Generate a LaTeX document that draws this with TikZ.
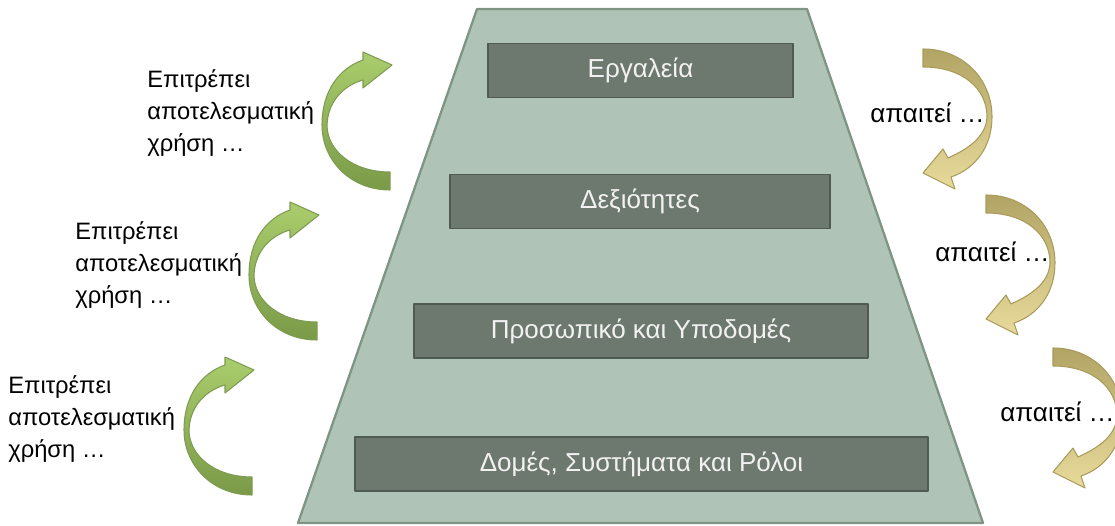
\documentclass[tikz,border=0pt]{standalone}
\usepackage{fontspec}
\setmainfont{Liberation Sans}
\definecolor{pyrfill}{HTML}{AFC3B6}
\definecolor{pyrline}{HTML}{7F9584}
\definecolor{boxfill}{HTML}{6D786F}
\definecolor{boxline}{HTML}{4F5A52}
\definecolor{grnlight}{HTML}{AACD6C}
\definecolor{grndark}{HTML}{7A9A48}
\definecolor{grnline}{HTML}{7E9B52}
\definecolor{tandark}{HTML}{B2A465}
\definecolor{tanlight}{HTML}{E8DA9A}
\definecolor{tanline}{HTML}{A89B5C}
\begin{document}
\begin{tikzpicture}[x=0.02cm,y=-0.02cm,line join=round,font=\fontsize{13.5}{18.2}\selectfont,
    level/.style={draw=boxline,line width=1.1pt,fill=boxfill,text=white!95!black,minimum height=1.08cm,
        font=\fontsize{14.8}{18}\selectfont},
    upgreen/.style={draw=grnline,line width=0.6pt,top color=grnlight,bottom color=grndark},
    downtan/.style={draw=tanline,line width=0.6pt,top color=tandark,bottom color=tanlight},
    note/.style={inner sep=0pt,align=left,anchor=north west},
    need/.style={inner sep=0pt,anchor=west,font=\fontsize{14.8}{18}\selectfont}]
    \useasboundingbox (0,0) rectangle (1115,526);
    % pyramid
    \draw[draw=pyrline,line width=1.3pt,fill=pyrfill] (477,9)--(807,9)--(983,523)--(298,523)--cycle;

    \node[level,minimum width=6.1cm] (tools) at (640.5,70.5) {Εργαλεία};
    \node[level,minimum width=7.6cm] (skills) at (640,201.5) {Δεξιότητες};
    \node[level,minimum width=9.08cm] (staff) at (641,331) {Προσωπικό και Υποδομές};
    \node[level,minimum width=11.46cm] (struct) at (641.5,464) {Δομές, Συστήματα και Ρόλοι};

    % curved arrows, left side
    \foreach \x/\y in {390/190,317/340,252/495}
        \draw[upgreen,shift={(\x,\y)}] (0,0) .. controls (-40,0) and (-68,-30) .. (-68,-65)
            .. controls (-68,-100) and (-50,-122) .. (-27,-130) -- (-27,-138) -- (2,-125)
            -- (-27,-102) -- (-27,-110) .. controls (-45,-105) and (-62,-90) .. (-63,-65)
            .. controls (-63,-40) and (-38,-18) .. (0,-18) -- cycle;
    % curved arrows, right side
    \foreach \x/\y in {923/49,986/195,1053/348}
        \draw[downtan,shift={(\x,\y)}] (0,0) .. controls (40,0) and (69,30) .. (69,68)
            .. controls (69,98) and (52,120) .. (28,128) -- (32,140) -- (0,124)
            -- (20,100) -- (25,109) .. controls (45,100) and (63,88) .. (64,68)
            .. controls (64,40) and (40,18) .. (0,18) -- cycle;

    \node[note] (use1) at (147,69) {Επιτρέπει\\αποτελεσματική\\χρήση …};
    \node[note] (use2) at (75,221) {Επιτρέπει\\αποτελεσματική\\χρήση …};
    \node[note] (use3) at (8,375) {Επιτρέπει\\αποτελεσματική\\χρήση …};
    \node[need] (need1) at (870,113) {απαιτεί …};
    \node[need] (need2) at (935,252) {απαιτεί …};
    \node[need] (need3) at (1000,412) {απαιτεί …};
\end{tikzpicture}
\end{document}
